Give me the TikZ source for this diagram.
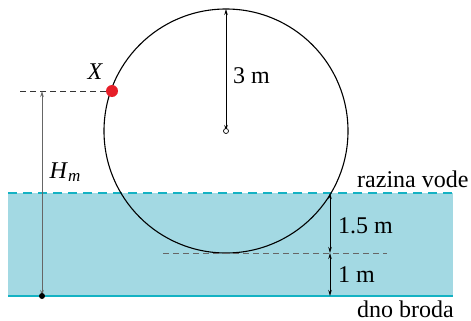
\documentclass[tikz,border=0pt]{standalone}
\usepackage{fontspec}
\setmainfont{Liberation Serif}
\usetikzlibrary{arrows.meta}
\definecolor{water}{RGB}{163,217,227}
\definecolor{teal}{RGB}{20,178,195}
\definecolor{dotred}{RGB}{230,30,40}
\tikzset{
  lbl/.style={font=\fontsize{24}{26}\selectfont, inner sep=1pt},
  dim/.style={line width=0.9pt, {Stealth[length=6pt,width=3.5pt]}-{Stealth[length=6pt,width=3.5pt]}},
}
\begin{document}
\begin{tikzpicture}[x=1pt,y=-1pt]
\useasboundingbox (0,0) rectangle (471,321);
% water
\fill[water] (8,193) rectangle (453,296);
\draw[teal, line width=1.3pt, dash pattern=on 9pt off 6pt] (8,193) -- (453,193);
\draw[teal, line width=1.3pt] (8,296) -- (453,296);
% circle
\coordinate (C) at (226,131);
\draw[line width=1.1pt] (C) circle (122);
% coordinates
\coordinate (T) at (226,9);
\coordinate (W) at (330,193);
\coordinate (B) at (330,253);
\coordinate (D) at (330,296);
\coordinate (BL) at (163,253);
\coordinate (BR) at (387,253);
\coordinate (XL) at (20,91);
\coordinate (HT) at (42,91);
\coordinate (HB) at (42,296);
% bottom dashed
\draw[gray!80!black, line width=0.9pt, dash pattern=on 6pt off 4pt] (BL) -- (BR);
% radius
\draw[dim] (C) -- (T);
\draw[fill=white, line width=0.7pt] (C) circle (2.5);
\node[lbl, anchor=west] (r) at (232,76) {3 m};
% depth dims
\draw[dim] (W) -- (B);
\draw[dim] (B) -- (D);
\node[lbl, anchor=west] (h1) at (337,226) {1.5 m};
\node[lbl, anchor=west] (h2) at (337,275) {1 m};
% X
\node[circle, fill=dotred, inner sep=0pt, minimum size=12pt] (X) at (112,91) {};
\draw[black!80, line width=0.9pt, dash pattern=on 6pt off 4pt] (XL) -- (X.west);
\node[lbl, font=\fontsize{24}{26}\selectfont\itshape] (xl) at (95,72) {X};
% Hm
\draw[black!60, line width=1pt, {Stealth[length=6pt,width=3.5pt]}-{Stealth[length=6pt,width=3.5pt]}] (HT) -- (HB);
\fill (HB) circle (3);
\node[lbl] (hm) at (65,172) {\textit{H}\raisebox{-0.3ex}{\fontsize{17}{18}\selectfont\textit{m}}};
% labels
\node[lbl, anchor=west] (rv) at (356,179) {razina vode};
\node[lbl, anchor=base west, inner sep=0pt] (db) at (357,317) {dno broda};
\end{tikzpicture}
\end{document}
